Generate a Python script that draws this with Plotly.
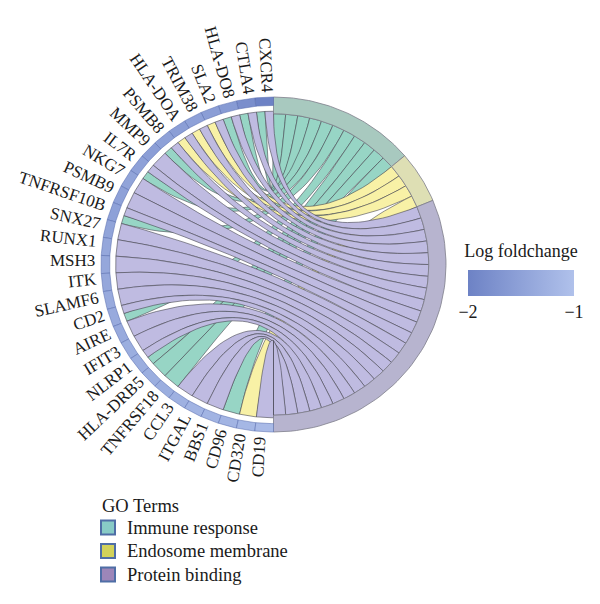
import numpy as np
import plotly.graph_objects as go

# ---------------- data ----------------
genes = ["CXCR4", "CTLA4", "HLA-DO8", "SLA2", "TRIM38", "HLA-DOA", "PSMB8", "MMP9",
         "IL7R", "NKG7", "PSMB9", "TNFRSF10B", "SNX27", "RUNX1", "MSH3", "ITK",
         "SLAMF6", "CD2", "AIRE", "IFIT3", "NLRP1", "HLA-DRB5", "TNFRSF18", "CCL3",
         "ITGAL", "BBS1", "CD96", "CD320", "CD19"]
logfc = [-2.0, -1.8, -1.6, -1.55, -1.5, -1.55, -1.5, -1.55, -1.5, -1.45, -1.5, -1.5,
         -1.45, -1.4, -1.4, -1.4, -1.35, -1.35, -1.35, -1.3, -1.3, -1.3, -1.3, -1.25,
         -1.2, -1.2, -1.2, -1.15, -1.1]
terms = ["Immune response", "Endosome membrane", "Protein binding"]
immune_genes = ["CXCR4", "CTLA4", "HLA-DO8", "PSMB8", "IL7R", "TNFRSF10B", "CD2",
                "NLRP1", "HLA-DRB5", "TNFRSF18", "CD96"]
endosome_genes = ["SLA2", "TRIM38", "HLA-DOA", "CD320"]
protein_genes = ["CXCR4", "CTLA4", "HLA-DO8", "SLA2", "TRIM38", "HLA-DOA", "PSMB8",
                 "MMP9", "IL7R", "NKG7", "PSMB9", "TNFRSF10B", "SNX27", "RUNX1", "MSH3",
                 "ITK", "SLAMF6", "CD2", "AIRE", "IFIT3", "NLRP1", "CCL3", "ITGAL",
                 "BBS1", "CD19"]
term_members = [immune_genes, endosome_genes, protein_genes]

# ---------------- style ----------------
FONT = "Liberation Serif"
chord_colors = ["#97d5c5", "#f8f1a6", "#bfbbe1"]
ring_colors = ["#a8c9bf", "#dedfb4", "#b7b4cf"]
legend_colors = ["#88cbc6", "#d2d25a", "#9d86b9"]
fc_scale = [[0, "#6d82c5"], [1, "#b0c1eb"]]
CX, CY, RX, RY = 273.5, 264.5, 172.5, 167.5
R_OUT, R_GIN, R_CH, R_TIN = 1.0, 0.95, 0.915, 0.9
OFF = 8            # browser default body margin
FW, FH = 600 - OFF, 604 - OFF


def pt(r, ang):
    a = np.radians(ang)
    return CX + RX * r * np.cos(a), CY - RY * r * np.sin(a)


def arc(r, a0, a1, n=30):
    angs = np.linspace(a0, a1, n)
    xs, ys = pt(r, angs)
    return list(xs), list(ys)


def lerp_color(v):
    t = min(max((v + 2) / 1.0, 0), 1)
    c0 = np.array([0x6d, 0x82, 0xc5]); c1 = np.array([0xb0, 0xc1, 0xeb])
    c = c0 + (c1 - c0) * t
    return "rgb(%d,%d,%d)" % tuple(c)


fig = go.Figure()

ng = len(genes)
gstep = 180.0 / ng
counts = [len(m) for m in term_members]
total = sum(counts)
tstep = 180.0 / total

term_start = []
a = 90.0
for c in counts:
    term_start.append(a)
    a -= c * tstep

gene_links = {g: [j for j in [2, 1, 0] if g in term_members[j]] for g in genes}

chords = []
for j, members in enumerate(term_members):
    ordered = [g for g in genes if g in members]
    for s, g in enumerate(ordered):
        i = genes.index(g)
        lst = gene_links[g]
        m = lst.index(j)
        w = gstep / len(lst)
        a1 = 90 + i * gstep + m * w
        a2 = a1 + w
        bh = term_start[j] - s * tstep
        bl = bh - tstep
        chords.append((j, a1, a2, bl, bh))


def bez(p0, p2, n=40):
    t = np.linspace(0, 1, n)
    x = (1 - t) ** 2 * (p0[0] - CX) + t ** 2 * (p2[0] - CX) + CX
    y = (1 - t) ** 2 * (p0[1] - CY) + t ** 2 * (p2[1] - CY) + CY
    return list(x), list(y)


for order_j in [0, 1, 2]:
    for (j, a1, a2, bl, bh) in chords:
        if j != order_j:
            continue
        xs, ys = arc(R_CH, a1, a2, 8)
        bx, by = bez(pt(R_CH, a2), pt(R_TIN, bl))
        xs += bx; ys += by
        ax_, ay_ = arc(R_TIN, bl, bh, 8)
        xs += ax_; ys += ay_
        bx, by = bez(pt(R_TIN, bh), pt(R_CH, a1))
        xs += bx; ys += by
        fig.add_trace(go.Scatter(x=xs, y=ys, mode="lines", fill="toself",
                                 fillcolor=chord_colors[j],
                                 line=dict(color="rgba(70,70,80,0.85)", width=0.7),
                                 hoverinfo="skip", showlegend=False))

# term ring
for j in range(len(terms)):
    a0 = term_start[j]
    a1 = a0 - counts[j] * tstep
    xo, yo = arc(R_OUT, a0, a1, 60)
    xi, yi = arc(R_TIN, a1, a0, 60)
    fig.add_trace(go.Scatter(x=xo + xi + [xo[0]], y=yo + yi + [yo[0]], mode="lines",
                             fill="toself", fillcolor=ring_colors[j],
                             line=dict(color="#7d7d8a", width=0.8),
                             hoverinfo="skip", showlegend=False))

# gene ring
for i, g in enumerate(genes):
    a0 = 90 + i * gstep
    a1 = a0 + gstep
    xo, yo = arc(R_OUT, a0, a1, 10)
    xi, yi = arc(R_GIN, a1, a0, 10)
    fig.add_trace(go.Scatter(x=xo + xi + [xo[0]], y=yo + yi + [yo[0]], mode="lines",
                             fill="toself", fillcolor=lerp_color(logfc[i]),
                             line=dict(color="rgba(90,110,175,0.9)", width=0.6),
                             hoverinfo="skip", showlegend=False))

# gene labels
W = dict(A=722, B=667, C=667, D=722, E=611, F=556, G=722, H=722, I=333, J=389, K=722,
         L=611, M=889, N=722, O=722, P=556, Q=722, R=667, S=556, T=611, U=722, V=722,
         W=944, X=722, Y=722, Z=611)
FS = 17
for i, g in enumerate(genes):
    ang = 90 + (i + 0.5) * gstep
    width = sum(W.get(c, 500 if c.isdigit() else 333) for c in g) / 1000 * FS
    rpx = 1.0 + (5 + width / 2) / 170.0
    x, y = pt(rpx, ang)
    up = np.radians(ang - 90)
    x += 4 * np.cos(up)
    y -= 4 * np.sin(up)
    fig.add_annotation(x=x, y=y, text=g, showarrow=False, textangle=180 - ang,
                       xanchor="center", yanchor="middle",
                       font=dict(family=FONT, size=FS, color="#1a1a1a"))

# colorbar (log foldchange)
fig.add_trace(go.Scatter(
    x=[-50], y=[-50], mode="markers", hoverinfo="skip", showlegend=False,
    marker=dict(size=1, color=[-1.5], cmin=-2, cmax=-1, colorscale=fc_scale,
                showscale=True,
                colorbar=dict(orientation="h", x=((468 + 574) / 2 - OFF) / FW,
                              xanchor="center",
                              y=1 - (316 - OFF) / FH, yanchor="bottom", ypad=0, xpad=0,
                              len=106, lenmode="pixels", thickness=26,
                              thicknessmode="pixels", outlinewidth=0,
                              tickvals=[-2, -1], ticktext=["\u22122", "\u22121"],
                              ticks="", tickfont=dict(family=FONT, size=18, color="#1a1a1a"),
                              title=dict(text="Log foldchange", side="top",
                                         font=dict(family=FONT, size=18, color="#1a1a1a"))))))

# legend (GO terms)
LFS = 18.5
fig.add_annotation(x=100, y=506, text="GO Terms", showarrow=False, xanchor="left",
                   yanchor="middle", font=dict(family=FONT, size=LFS, color="#1a1a1a"))
for k, t in enumerate(terms):
    yc = 527.5 + k * 23.5
    fig.add_shape(type="rect", x0=101, x1=115, y0=yc - 7, y1=yc + 7,
                  fillcolor=legend_colors[k], line=dict(color="#4f6ea6", width=2))
    fig.add_annotation(x=125, y=yc, text=t, showarrow=False, xanchor="left",
                       yanchor="middle", font=dict(family=FONT, size=LFS, color="#1a1a1a"))

fig.update_layout(
    width=FW, height=FH, margin=dict(l=0, r=0, t=0, b=0),
    paper_bgcolor="white", plot_bgcolor="white",
    xaxis=dict(range=[OFF, 600], visible=False, fixedrange=True),
    yaxis=dict(range=[604, OFF], visible=False, fixedrange=True),
    showlegend=False,
)
fig.write_html("out.html")
